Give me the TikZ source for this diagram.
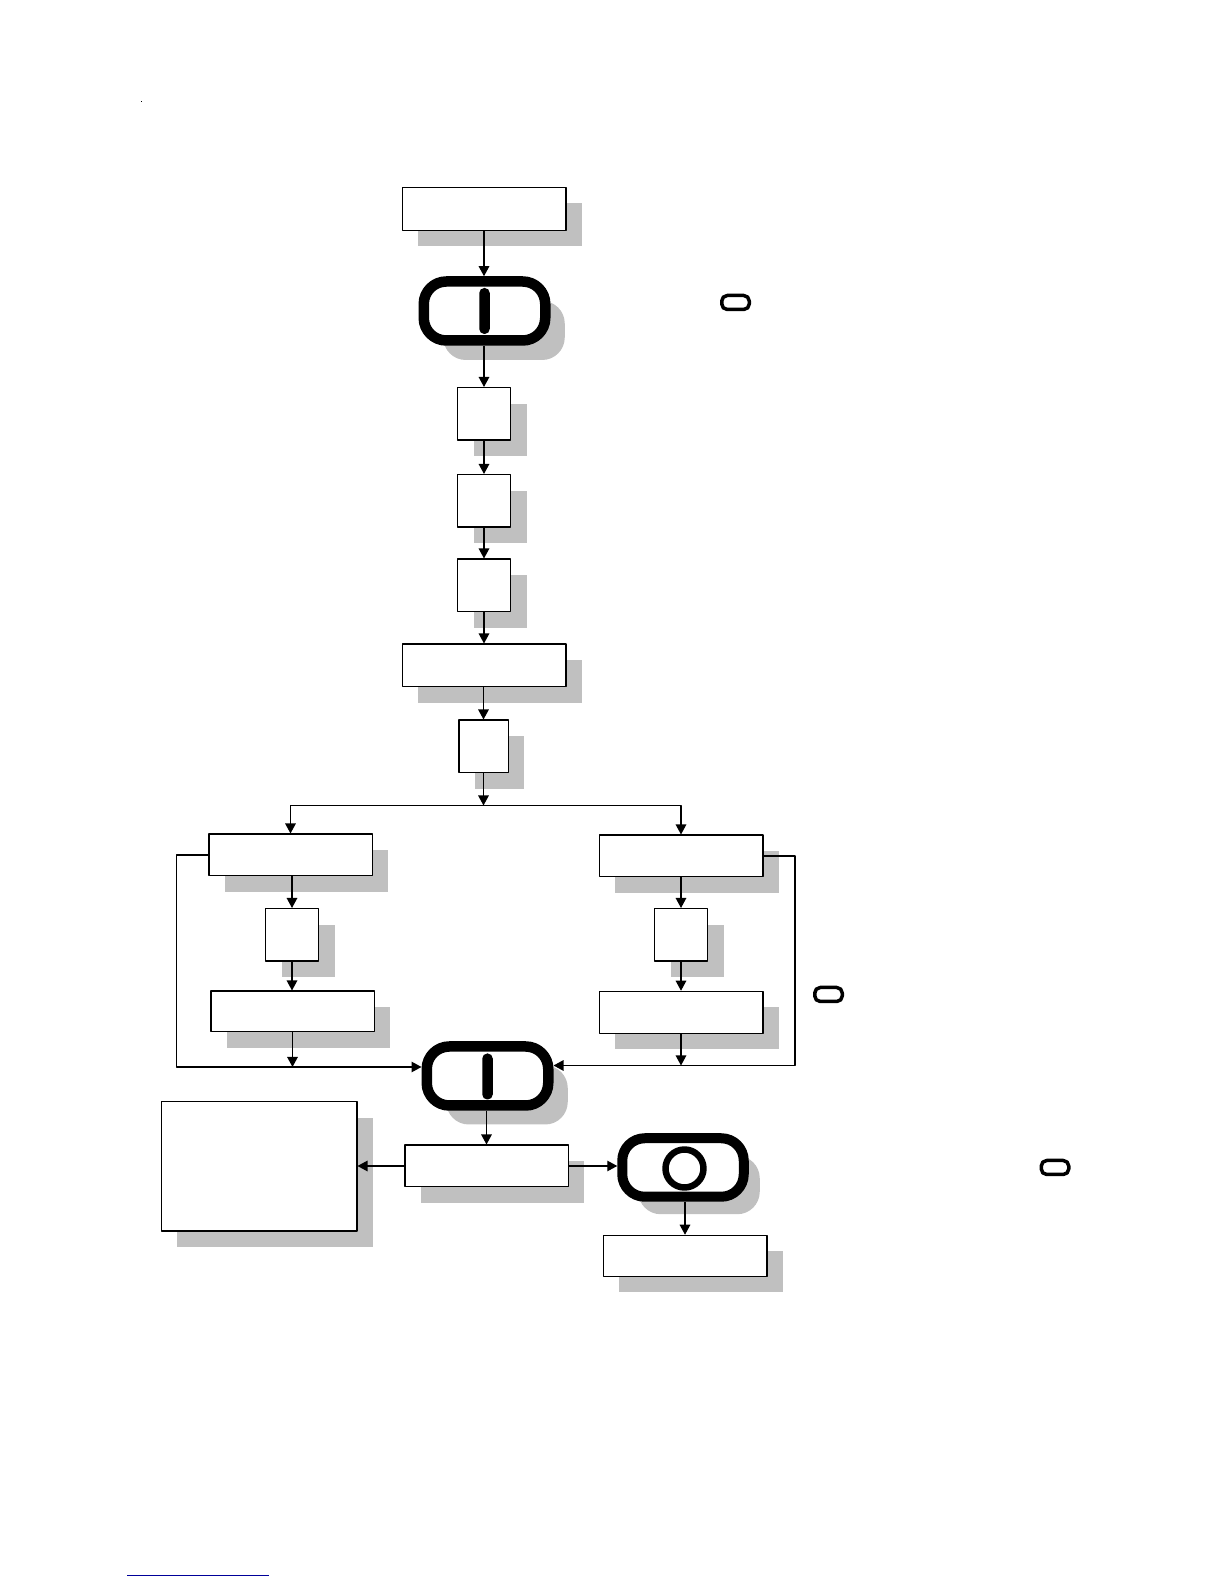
\documentclass[tikz,border=0pt]{standalone}
\usetikzlibrary{arrows.meta,shadows}
\definecolor{shadegray}{HTML}{C0C0C0}
\definecolor{linkblue}{RGB}{0,0,153}
\tikzset{
	flowbox/.style={draw,fill=white,inner sep=0pt,line width=0.03cm,
		copy shadow={shadow xshift=0.32cm,shadow yshift=-0.32cm,draw=none,fill=shadegray}},
	widebox/.style={flowbox,minimum width=3.27cm,minimum height=0.83cm},
	squarebox/.style={flowbox,minimum width=1.06cm,minimum height=1.05cm},
	thickoval/.style 2 args={draw,fill=white,inner sep=0pt,line width=0.21cm,rounded corners=0.45cm,
		minimum width=2.43cm,minimum height=1.18cm,
		copy shadow={shadow xshift=#1,shadow yshift=-#2,draw=none,fill=shadegray}},
	tinyoval/.style={draw,inner sep=0pt,line width=0.07cm,rounded corners=0.11cm,
		minimum width=0.55cm,minimum height=0.28cm},
	ovalbar/.style={fill=black,inner sep=0pt,rounded corners=0.1cm,
		minimum width=0.21cm,minimum height=0.92cm},
	flowline/.style={line width=0.026cm,>={Triangle[length=0.2cm,width=0.21cm]}}
}
\begin{document}
\begin{tikzpicture}[line join=round]
	\useasboundingbox (0,0) rectangle (24.48,31.68);
	\node[widebox,minimum height=0.86cm] (start) at (9.68,27.5) {};
	\node[thickoval={0.39cm}{0.39cm}] (ovalA) at (9.69,25.46) {};
	\node[ovalbar] (barA) at (9.69,25.46) {};
	\node[tinyoval] (tinyA) at (14.71,25.63) {};
	\node[squarebox] (stepA) at (9.68,23.4) {};
	\node[squarebox] (stepB) at (9.68,21.66) {};
	\node[squarebox] (stepC) at (9.68,19.97) {};
	\node[widebox,minimum height=0.85cm] (middle) at (9.68,18.37) {};
	\node[squarebox,minimum width=0.99cm] (stepD) at (9.67,16.75) {};
	\coordinate (split) at (9.68,15.57);
	\node[widebox] (leftA) at (5.81,14.58) {};
	\node[squarebox] (leftB) at (5.84,12.98) {};
	\node[widebox,minimum height=0.81cm] (leftC) at (5.85,11.45) {};
	\node[widebox] (rightA) at (13.62,14.56) {};
	\node[squarebox] (rightB) at (13.62,12.98) {};
	\node[widebox,minimum height=0.84cm] (rightC) at (13.62,11.43) {};
	\node[tinyoval] (tinyB) at (16.57,11.79) {};
	\coordinate (leftbend) at (3.53,10.34);
	\coordinate (rightbend) at (15.9,10.37);
	\node[thickoval={0.39cm}{0.38cm}] (ovalB) at (9.75,10.16) {};
	\node[ovalbar] (barB) at (9.75,10.15) {};
	\node[flowbox,minimum width=3.91cm,minimum height=2.59cm] (bigbox) at (5.18,8.35) {};
	\node[widebox] (output) at (9.73,8.36) {};
	\node[thickoval={0.32cm}{0.35cm},line width=0.2cm,minimum height=1.17cm] (ovalC) at (13.66,8.33) {};
	\node[draw,circle,inner sep=0pt,line width=0.13cm,minimum size=0.76cm] (ring) at (13.69,8.31) {};
	\node[tinyoval] (tinyC) at (21.1,8.33) {};
	\node[widebox,minimum height=0.82cm] (last) at (13.7,6.56) {};
	\node[fill=black,inner sep=0pt,minimum size=0.025cm] (speck) at (2.83,29.65) {};
	\coordinate (ruleL) at (2.54,0.17);
	\coordinate (ruleR) at (5.38,0.17);
	\draw[flowline,->] (start)--(start|-ovalA.north);
	\draw[flowline,->] (ovalA.south-|stepA)--(stepA);
	\draw[flowline,->] (stepA)--(stepB);
	\draw[flowline,->] (stepB)--(stepC);
	\draw[flowline,->] (stepC)--(middle);
	\draw[flowline,->] (middle.south-|stepD)--(stepD);
	\draw[flowline,->] (stepD.south)--(stepD.south|-split);
	\draw[flowline,->] (stepD.south|-split)-|(leftA);
	\draw[flowline,->] (stepD.south|-split)-|(rightA);
	\draw[flowline,->] (leftA.south-|leftB)--(leftB);
	\draw[flowline,->] (leftB)--(leftB|-leftC.north);
	\draw[flowline,->] (rightA)--(rightB);
	\draw[flowline,->] (rightB)--(rightC);
	\draw[flowline,->] (leftC)--(leftC|-leftbend);
	\draw[flowline,->] (rightC)--(rightC|-rightbend);
	\draw[flowline,->] (leftA.west)-|(leftbend)--(ovalB.west|-leftbend);
	\draw[flowline,->] (rightA.east)-|(rightbend)--(ovalB.east|-rightbend);
	\draw[flowline,->] (ovalB.south-|output)--(output);
	\draw[flowline,->] (output)--(bigbox.east|-output);
	\draw[flowline,->] (output)--(ovalC.west|-output);
	\draw[flowline,->] (ovalC.south-|last)--(last);
	\draw[line width=0.025cm,linkblue] (ruleL)--(ruleR);
\end{tikzpicture}
\end{document}
